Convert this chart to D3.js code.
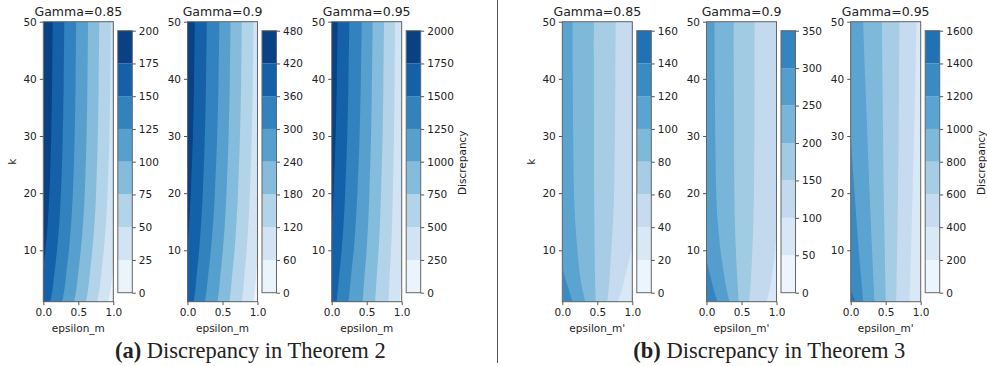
<!DOCTYPE html>
<html>
<head>
<meta charset="utf-8">
<script src="https://cdn.jsdelivr.net/npm/d3@7"></script>
<style>
  body { margin: 0; background: #fff; }
  text { font-family: "DejaVu Sans", sans-serif; fill: #222; }
  .caption { font-family: "Liberation Serif", "Times New Roman", serif; }
</style>
</head>
<body>
<div id="canvas"></div>
<script>
// ---- data ----
const kGrid = [1, 3, 5, 10, 15, 20, 30, 40, 50];
const epsTicks = [0, 0.5, 1];
const kTicks = [10, 20, 30, 40, 50];
const gammaTitles = ["Gamma=0.85", "Gamma=0.9", "Gamma=0.95"];
const colorMax = [200, 480, 2000];

const levelsThm2 = [
  [0, 25, 50, 75, 100, 125, 150, 175, 200],
  [0, 60, 120, 180, 240, 300, 360, 420, 480],
  [0, 250, 500, 750, 1000, 1250, 1500, 1750, 2000]
];
const levelsThm3 = [
  [0, 20, 40, 60, 80, 100, 120, 140, 160],
  [0, 50, 100, 150, 200, 250, 300, 350],
  [0, 200, 400, 600, 800, 1000, 1200, 1400, 1600]
];

// contour edges: [level, epsilon at each kGrid value]
const thm2G085 = [
  [175, [-0.065, -0.035, -0.015, 0.03, 0.065, 0.087, 0.113, 0.127, 0.135]],
  [150, [0.10, 0.13, 0.15, 0.195, 0.23, 0.252, 0.278, 0.292, 0.30]],
  [125, [0.27, 0.30, 0.32, 0.365, 0.40, 0.422, 0.448, 0.462, 0.47]],
  [100, [0.44, 0.47, 0.49, 0.535, 0.57, 0.592, 0.618, 0.632, 0.64]],
  [75, [0.61, 0.638, 0.657, 0.70, 0.733, 0.754, 0.779, 0.792, 0.80]],
  [50, [0.77, 0.80, 0.82, 0.863, 0.897, 0.918, 0.944, 0.957, 0.965]],
  [25, [0.93, 0.96, 0.98, 1.025, 1.06, 1.082, 1.108, 1.122, 1.13]]
];
const thm2G090 = [
  [420, [-0.08, -0.06, -0.045, -0.005, 0.025, 0.047, 0.077, 0.095, 0.105]],
  [360, [0.09, 0.111, 0.126, 0.166, 0.196, 0.218, 0.248, 0.266, 0.276]],
  [300, [0.25, 0.273, 0.29, 0.334, 0.367, 0.391, 0.424, 0.444, 0.455]],
  [240, [0.43, 0.45, 0.465, 0.505, 0.535, 0.557, 0.587, 0.605, 0.615]],
  [180, [0.60, 0.619, 0.633, 0.672, 0.70, 0.721, 0.749, 0.767, 0.776]],
  [120, [0.776, 0.795, 0.808, 0.844, 0.871, 0.891, 0.918, 0.934, 0.943]],
  [60, [0.943, 0.962, 0.975, 1.011, 1.038, 1.058, 1.085, 1.101, 1.11]]
];
const thm2G095 = [
  [1750, [-0.094, -0.079, -0.064, -0.024, 0.006, 0.026, 0.056, 0.074, 0.086]],
  [1500, [0.072, 0.087, 0.102, 0.142, 0.172, 0.192, 0.222, 0.24, 0.252]],
  [1250, [0.24, 0.257, 0.272, 0.315, 0.345, 0.367, 0.398, 0.417, 0.43]],
  [1000, [0.443, 0.454, 0.466, 0.498, 0.522, 0.538, 0.562, 0.576, 0.586]],
  [750, [0.62, 0.631, 0.641, 0.67, 0.691, 0.705, 0.727, 0.739, 0.748]],
  [500, [0.81, 0.818, 0.826, 0.847, 0.863, 0.873, 0.889, 0.899, 0.905]],
  [250, [0.976, 0.983, 0.99, 1.01, 1.025, 1.035, 1.05, 1.06, 1.07]]
];
const thm3G085 = [
  [120, [0.15, 0.095, 0.045, -0.06, -0.14, -0.2, -0.3, -0.35, -0.4]],
  [100, [0.33, 0.29, 0.26, 0.215, 0.185, 0.168, 0.155, 0.15, 0.148]],
  [80, [0.476, 0.472, 0.468, 0.462, 0.458, 0.455, 0.453, 0.452, 0.452]],
  [60, [0.643, 0.66, 0.675, 0.70, 0.725, 0.74, 0.752, 0.758, 0.762]],
  [40, [0.795, 0.85, 0.89, 0.985, 1.05, 1.1, 1.2, 1.25, 1.3]]
];
const thm3G090 = [
  [300, [0.16, 0.105, 0.065, -0.03, -0.1, -0.15, -0.25, -0.3, -0.35]],
  [250, [0.33, 0.29, 0.26, 0.2, 0.16, 0.14, 0.125, 0.118, 0.114]],
  [200, [0.46, 0.45, 0.44, 0.42, 0.405, 0.398, 0.393, 0.39, 0.39]],
  [150, [0.61, 0.625, 0.635, 0.655, 0.67, 0.678, 0.684, 0.687, 0.688]],
  [100, [0.86, 0.9, 0.93, 0.98, 1.01, 1.04, 1.09, 1.12, 1.15]]
];
const thm3G095 = [
  [1400, [0.07, 0.0, -0.06, -0.2, -0.3, -0.4, -0.6, -0.7, -0.8]],
  [1200, [0.18, 0.165, 0.15, 0.115, 0.085, 0.055, 0.0, -0.05, -0.1]],
  [1000, [0.34, 0.332, 0.324, 0.305, 0.287, 0.27, 0.238, 0.207, 0.178]],
  [800, [0.50, 0.497, 0.494, 0.487, 0.479, 0.472, 0.462, 0.454, 0.447]],
  [600, [0.65, 0.653, 0.656, 0.663, 0.67, 0.676, 0.685, 0.691, 0.697]],
  [400, [0.84, 0.845, 0.85, 0.862, 0.873, 0.884, 0.905, 0.924, 0.94]]
];

// ---- layout ----
const width = 987;
const height = 366;
const axTop = 21.7, axW = 70, axH = 280;
const panelStep = 144.2;
const groupShift = 519;
const cbGap = 4.5, cbW = 14.5, cbTop = 30.7, cbH = 262;

const svg = d3.select("#canvas").append("svg")
  .attr("width", width)
  .attr("height", height);

// matplotlib "Blues" = linear segments through the 9 colorbrewer colours
const blues = d3.scaleLinear()
  .domain(d3.range(9).map(i => i / 8))
  .range(d3.schemeBlues[9])
  .interpolate(d3.interpolateRgb)
  .clamp(true);

const groups = [
  { left: 43.3, levels: levelsThm2, edges: [thm2G085, thm2G090, thm2G095], xlabel: "epsilon_m",
    tag: "(a)", caption: " Discrepancy in Theorem 2" },
  { left: 43.3 + groupShift, levels: levelsThm3, edges: [thm3G085, thm3G090, thm3G095], xlabel: "epsilon_m'",
    tag: "(b)", caption: " Discrepancy in Theorem 3" }
];

let clipId = 0;

function bandColor(levels, i, vmax) {
  return blues(((levels[i] + levels[i + 1]) / 2) / vmax);
}

function drawPanel(left, levels, edges, vmax, title, xlabel, first, last) {
  const g = svg.append("g").attr("transform", `translate(${left},${axTop})`);
  const x = d3.scaleLinear().domain([0, 1]).range([0, axW]);
  const y = d3.scaleLinear().domain([1, 50]).range([axH, 0]);

  const id = "clip" + (clipId++);
  g.append("clipPath").attr("id", id)
    .append("rect").attr("width", axW).attr("height", axH);
  const fills = g.append("g").attr("clip-path", `url(#${id})`);

  // base: the band just above the highest edge drawn
  const topIdx = levels.indexOf(edges[0][0]);
  fills.append("rect")
    .attr("width", axW).attr("height", axH)
    .attr("fill", bandColor(levels, topIdx, vmax));

  const area = d3.area()
    .y(d => y(d.k))
    .x0(d => x(d.e))
    .x1(x(1.3))
    .curve(d3.curveCatmullRom);

  edges.forEach(([lev, eps]) => {
    const i = levels.indexOf(lev);
    const pts = kGrid.map((k, j) => ({ k: k, e: eps[j] }));
    fills.append("path")
      .attr("d", area(pts))
      .attr("fill", bandColor(levels, i - 1, vmax));
  });

  g.append("rect")
    .attr("width", axW).attr("height", axH)
    .attr("fill", "none").attr("stroke", "#666").attr("stroke-width", 1);

  const xAxis = g.append("g")
    .attr("transform", `translate(0,${axH})`)
    .call(d3.axisBottom(x).tickValues(epsTicks).tickFormat(d3.format(".1f")).tickSize(3.5).tickPadding(3));
  const yAxis = g.append("g")
    .call(d3.axisLeft(y).tickValues(kTicks).tickSize(3.5).tickPadding(3));
  [xAxis, yAxis].forEach(a => {
    a.select(".domain").remove();
    a.selectAll("line").attr("stroke", "#555");
    a.selectAll("text").style("font-family", "DejaVu Sans").style("font-size", "10.5px").attr("fill", "#222");
  });

  g.append("text")
    .attr("x", axW / 2).attr("y", -5.5)
    .attr("text-anchor", "middle")
    .style("font-size", "12.5px")
    .text(title);

  g.append("text")
    .attr("x", axW / 2).attr("y", axH + 30.5)
    .attr("text-anchor", "middle")
    .style("font-size", "10.5px")
    .text(xlabel);

  if (first) {
    g.append("text")
      .attr("transform", `translate(${-30.6},${axH / 2}) rotate(-90)`)
      .attr("text-anchor", "middle")
      .attr("dy", "0.35em")
      .style("font-size", "10.5px")
      .text("k");
  }

  // colorbar
  const cb = svg.append("g")
    .attr("transform", `translate(${left + axW + cbGap},${cbTop})`);
  const cy = d3.scaleLinear().domain([levels[0], levels[levels.length - 1]]).range([cbH, 0]);
  cb.selectAll("rect.band")
    .data(levels.slice(0, -1))
    .join("rect")
    .attr("class", "band")
    .attr("x", 0)
    .attr("y", (d, i) => cy(levels[i + 1]))
    .attr("width", cbW)
    .attr("height", (d, i) => cy(levels[i]) - cy(levels[i + 1]))
    .attr("fill", (d, i) => bandColor(levels, i, vmax));
  cb.append("rect")
    .attr("width", cbW).attr("height", cbH)
    .attr("fill", "none").attr("stroke", "#666").attr("stroke-width", 1);
  const cbAxis = cb.append("g")
    .attr("transform", `translate(${cbW},0)`)
    .call(d3.axisRight(cy).tickValues(levels).tickFormat(d3.format("d")).tickSize(3.5).tickPadding(3));
  cbAxis.select(".domain").remove();
  cbAxis.selectAll("line").attr("stroke", "#555");
  cbAxis.selectAll("text").style("font-family", "DejaVu Sans").style("font-size", "10.5px").attr("fill", "#222");

  if (last) {
    cb.append("text")
      .attr("transform", `translate(${cbW + 41.5},${cbH / 2 + 1}) rotate(-90)`)
      .attr("text-anchor", "middle")
      .attr("dy", "0.35em")
      .style("font-size", "10.5px")
      .text("Discrepancy");
  }
}

groups.forEach(gr => {
  gr.edges.forEach((edges, p) => {
    drawPanel(gr.left + p * panelStep, gr.levels[p], edges, colorMax[p],
      gammaTitles[p], gr.xlabel, p === 0, p === 2);
  });

  const cap = svg.append("text")
    .attr("class", "caption")
    .attr("x", gr.left + 207)
    .attr("y", 358)
    .attr("text-anchor", "middle")
    .style("font-size", "22.5px");
  cap.append("tspan").style("font-weight", "bold").text(gr.tag);
  cap.append("tspan").text(gr.caption);
});

// divider between (a) and (b)
svg.append("line")
  .attr("x1", 497.5).attr("x2", 497.5)
  .attr("y1", 0).attr("y2", 363)
  .attr("stroke", "#555").attr("stroke-width", 1);
</script>
</body>
</html>
